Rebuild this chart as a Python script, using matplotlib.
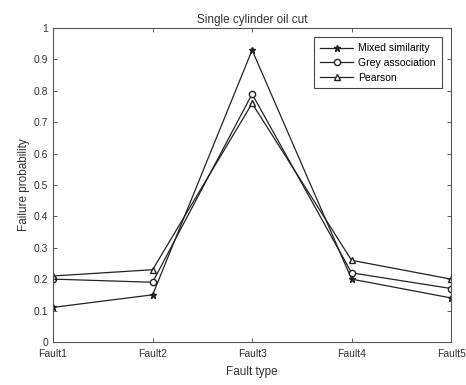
import matplotlib.pyplot as plt

plt.rcParams['font.family'] = ['Liberation Sans', 'DejaVu Sans']

faults = ['Fault1', 'Fault2', 'Fault3', 'Fault4', 'Fault5']
mixed = [0.11, 0.15, 0.93, 0.20, 0.14]
grey = [0.20, 0.19, 0.79, 0.22, 0.17]
pearson = [0.21, 0.23, 0.76, 0.26, 0.20]

fig = plt.figure(figsize=(4.66, 3.85), dpi=100)
ax = fig.add_axes([0.114, 0.112, 0.854, 0.815])

x = range(len(faults))
ax.plot(x, mixed, color='#222222', lw=0.9, marker='*', ms=4.5, label='Mixed similarity')
ax.plot(x, grey, color='#222222', lw=0.9, marker='o', ms=4.5, mfc='white', label='Grey association')
ax.plot(x, pearson, color='#222222', lw=0.9, marker='^', ms=4.5, mfc='white', label='Pearson')

ax.set_xlim(0, 4)
ax.set_ylim(0, 1)
ax.set_xticks(list(x))
ax.set_xticklabels(faults)
ax.set_yticks([i / 10 for i in range(11)])
ax.set_yticklabels(['0', '0.1', '0.2', '0.3', '0.4', '0.5', '0.6', '0.7', '0.8', '0.9', '1'])
ax.tick_params(direction='in', top=True, right=True, labelsize=7.5, colors='#444444',
               labelcolor='#333333', length=3, width=0.6)
ax.tick_params(axis='x', pad=5)
for s in ax.spines.values():
    s.set_color('#555555')
    s.set_linewidth(0.8)

ax.set_xlabel('Fault type', fontsize=8.5, color='#333333', labelpad=5)
ax.set_ylabel('Failure probability', fontsize=8.5, color='#333333', labelpad=3)
ax.set_title('Single cylinder oil cut', fontsize=8.5, color='#333333', pad=4)

leg = ax.legend(loc='upper right', fontsize=7.5, fancybox=False, framealpha=1,
                edgecolor='#444444', borderpad=0.55, handlelength=3.2, labelspacing=0.45,
                borderaxespad=0.9, handletextpad=0.5)
leg.get_frame().set_linewidth(0.8)

fig.savefig('out.png', dpi=100)
